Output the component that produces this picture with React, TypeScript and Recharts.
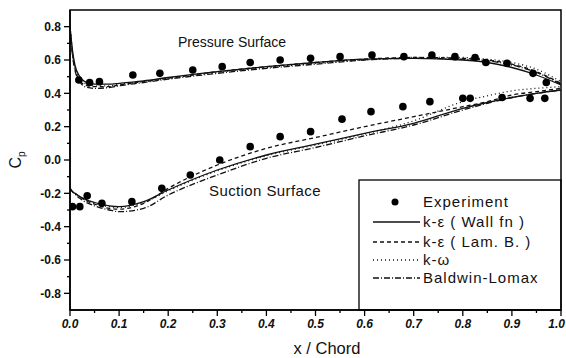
import { ComposedChart, Line, XAxis, YAxis, ReferenceArea, Customized } from "recharts";

// chordwise stations used by the computed Cp curves
const stations = [0, 0.005, 0.01, 0.02, 0.03, 0.05, 0.08, 0.1, 0.15, 0.2, 0.3, 0.4, 0.5, 0.6, 0.7, 0.8, 0.85, 0.9, 0.95, 1.0];

const wallFnPressure = [0.8, 0.66, 0.57, 0.5, 0.47, 0.455, 0.455, 0.46, 0.475, 0.495, 0.53, 0.56, 0.585, 0.605, 0.61, 0.6, 0.585, 0.555, 0.51, 0.45];
const wallFnSuction = [-0.17, -0.19, -0.2, -0.22, -0.235, -0.255, -0.275, -0.28, -0.25, -0.18, -0.06, 0.03, 0.095, 0.16, 0.22, 0.31, 0.345, 0.375, 0.4, 0.42];

const lamBPressure = [0.8, 0.64, 0.55, 0.48, 0.45, 0.44, 0.44, 0.45, 0.47, 0.49, 0.53, 0.56, 0.585, 0.605, 0.615, 0.61, 0.6, 0.575, 0.53, 0.46];
const lamBSuction = [-0.17, -0.19, -0.2, -0.22, -0.24, -0.265, -0.29, -0.295, -0.26, -0.17, -0.03, 0.07, 0.135, 0.2, 0.26, 0.32, 0.35, 0.39, 0.41, 0.43];

const kOmegaPressure = [0.8, 0.65, 0.56, 0.49, 0.46, 0.445, 0.445, 0.455, 0.47, 0.49, 0.525, 0.555, 0.58, 0.6, 0.615, 0.615, 0.605, 0.585, 0.545, 0.47];
const kOmegaSuction = [-0.17, -0.19, -0.2, -0.22, -0.235, -0.26, -0.28, -0.285, -0.255, -0.185, -0.065, 0.025, 0.09, 0.155, 0.235, 0.35, 0.385, 0.415, 0.43, 0.44];

const baldwinPressure = [0.8, 0.63, 0.54, 0.47, 0.44, 0.43, 0.435, 0.445, 0.465, 0.485, 0.52, 0.55, 0.575, 0.6, 0.61, 0.605, 0.595, 0.57, 0.525, 0.455];
const baldwinSuction = [-0.17, -0.19, -0.205, -0.23, -0.25, -0.275, -0.3, -0.31, -0.29, -0.21, -0.09, 0.01, 0.075, 0.145, 0.21, 0.3, 0.34, 0.375, 0.4, 0.42];

// measured pressure coefficients
const expPressureX = [0.018, 0.04, 0.06, 0.128, 0.183, 0.25, 0.31, 0.367, 0.428, 0.49, 0.55, 0.615, 0.68, 0.737, 0.784, 0.825, 0.847, 0.89, 0.943, 0.97];
const expPressureCp = [0.48, 0.465, 0.47, 0.51, 0.52, 0.54, 0.56, 0.585, 0.6, 0.61, 0.62, 0.63, 0.62, 0.63, 0.62, 0.615, 0.585, 0.58, 0.52, 0.465];
const expSuctionX = [0.005, 0.02, 0.035, 0.065, 0.126, 0.187, 0.245, 0.305, 0.367, 0.428, 0.49, 0.554, 0.613, 0.678, 0.733, 0.8, 0.815, 0.88, 0.937, 0.967];
const expSuctionCp = [-0.28, -0.28, -0.215, -0.26, -0.25, -0.17, -0.09, 0.0, 0.08, 0.14, 0.17, 0.245, 0.29, 0.32, 0.35, 0.37, 0.37, 0.375, 0.37, 0.37];

const xTicks = [0, 0.05, 0.1, 0.15, 0.2, 0.25, 0.3, 0.35, 0.4, 0.45, 0.5, 0.55, 0.6, 0.65, 0.7, 0.75, 0.8, 0.85, 0.9, 0.95, 1.0];
const yTicks = [-0.8, -0.7, -0.6, -0.5, -0.4, -0.3, -0.2, -0.1, 0, 0.1, 0.2, 0.3, 0.4, 0.5, 0.6, 0.7, 0.8];

const models = [
  { name: "k-ε ( Wall fn )", dash: undefined, pressure: wallFnPressure, suction: wallFnSuction },
  { name: "k-ε ( Lam. B. )", dash: "4 3", pressure: lamBPressure, suction: lamBSuction },
  { name: "k-ω", dash: "1 3", pressure: kOmegaPressure, suction: kOmegaSuction },
  { name: "Baldwin-Lomax", dash: "6 2 1 2", pressure: baldwinPressure, suction: baldwinSuction },
];

const toRows = (xs: number[], ys: number[]) => xs.map((x, i) => ({ x, cp: ys[i] }));

const FONT = "'Liberation Sans', Arial, sans-serif";
const TICK = 6;
const MARGIN = 3;

function YTick({ x, y, payload }: any) {
  const v = payload.value as number;
  const major = Math.round(v * 10) % 2 === 0;
  const axisX = x + TICK + MARGIN;
  return (
    <g>
      <line x1={axisX - (major ? TICK : 3)} x2={axisX} y1={y} y2={y} stroke="#000" strokeWidth={1.3} />
      {major && (
        <text x={x} y={y} dy="0.35em" textAnchor="end" fontSize={12} fontWeight="bold" fill="#111" fontFamily={FONT}>
          {v.toFixed(1)}
        </text>
      )}
    </g>
  );
}

function XTick({ x, y, payload }: any) {
  const v = payload.value as number;
  const major = Math.round(v * 100) % 10 === 0;
  const last = v === 1;
  const axisY = y - TICK - MARGIN;
  return (
    <g>
      <line x1={x} x2={x} y1={axisY} y2={axisY + (major ? TICK : 3)} stroke="#000" strokeWidth={1.3} />
      {major && (
        <text
          x={last ? x + 4 : x}
          y={y}
          dy="0.75em"
          textAnchor={last ? "end" : "middle"}
          fontSize={12}
          fontWeight="bold"
          fontStyle="italic"
          fill="#111"
          fontFamily={FONT}
        >
          {v.toFixed(1)}
        </text>
      )}
    </g>
  );
}

function Annotations() {
  const rowY = [222, 242, 260, 278];
  return (
    <g fontFamily={FONT} fill="#111">
      <text x={15} y={160} transform="rotate(-90 15 160)" textAnchor="middle" fontSize={16} dy="0.35em">
        C<tspan fontSize={10} dy={4}>p</tspan>
      </text>
      <text x={327} y={348} textAnchor="middle" fontSize={16.5} dy="0.35em">x / Chord</text>
      <text x={178} y={47} fontSize={14}>Pressure Surface</text>
      <text x={209} y={196} fontSize={15} letterSpacing={0.4}>Suction Surface</text>

      <rect x={359} y={180} width={202} height={130} fill="#fff" stroke="#000" strokeWidth={1.3} />
      <circle cx={395} cy={202} r={3.5} fill="#000" />
      <text x={423} y={202} dy="0.35em" fontSize={15} letterSpacing={1}>Experiment</text>
      {models.map((m, i) => (
        <g key={m.name}>
          <line x1={373} x2={420} y1={rowY[i]} y2={rowY[i]} stroke="#111" strokeWidth={1.3} strokeDasharray={m.dash} />
          <text x={423} y={rowY[i]} dy="0.35em" fontSize={15} letterSpacing={1}>{m.name}</text>
        </g>
      ))}
    </g>
  );
}

export default function App() {
  return (
    <div style={{ position: "absolute", left: 0, top: 0, background: "#fff" }}>
      <ComposedChart width={566} height={358} margin={{ top: 10, right: 5, bottom: 18, left: 10 }} style={{ fontFamily: FONT }}>
        <XAxis
          type="number"
          dataKey="x"
          domain={[0, 1]}
          ticks={xTicks}
          interval={0}
          allowDataOverflow
          height={30}
          tickSize={TICK}
          tickMargin={MARGIN}
          tickLine={false}
          tick={<XTick />}
          axisLine={{ stroke: "#000", strokeWidth: 1.5 }}
        />
        <YAxis
          type="number"
          domain={[-0.9, 0.9]}
          ticks={yTicks}
          interval={0}
          allowDataOverflow
          width={60}
          tickSize={TICK}
          tickMargin={MARGIN}
          tickLine={false}
          tick={<YTick />}
          axisLine={{ stroke: "#000", strokeWidth: 1.5 }}
        />
        <ReferenceArea x1={0} x2={1} y1={-0.9} y2={0.9} fill="none" stroke="#000" strokeWidth={1.5} />
        {models.map((m) => (
          <Line
            key={m.name + "-p"}
            data={toRows(stations, m.pressure)}
            dataKey="cp"
            name={m.name}
            type="monotone"
            stroke="#111"
            strokeWidth={1.3}
            strokeDasharray={m.dash}
            dot={false}
            isAnimationActive={false}
          />
        ))}
        {models.map((m) => (
          <Line
            key={m.name + "-s"}
            data={toRows(stations, m.suction)}
            dataKey="cp"
            name={m.name}
            type="monotone"
            stroke="#111"
            strokeWidth={1.3}
            strokeDasharray={m.dash}
            dot={false}
            legendType="none"
            isAnimationActive={false}
          />
        ))}
        <Line
          data={toRows(expPressureX, expPressureCp)}
          dataKey="cp"
          name="Experiment"
          stroke="none"
          dot={{ r: 3.8, fill: "#000", stroke: "none" }}
          isAnimationActive={false}
        />
        <Line
          data={toRows(expSuctionX, expSuctionCp)}
          dataKey="cp"
          name="Experiment"
          stroke="none"
          dot={{ r: 3.8, fill: "#000", stroke: "none" }}
          legendType="none"
          isAnimationActive={false}
        />
        <Customized component={Annotations} />
      </ComposedChart>
    </div>
  );
}
